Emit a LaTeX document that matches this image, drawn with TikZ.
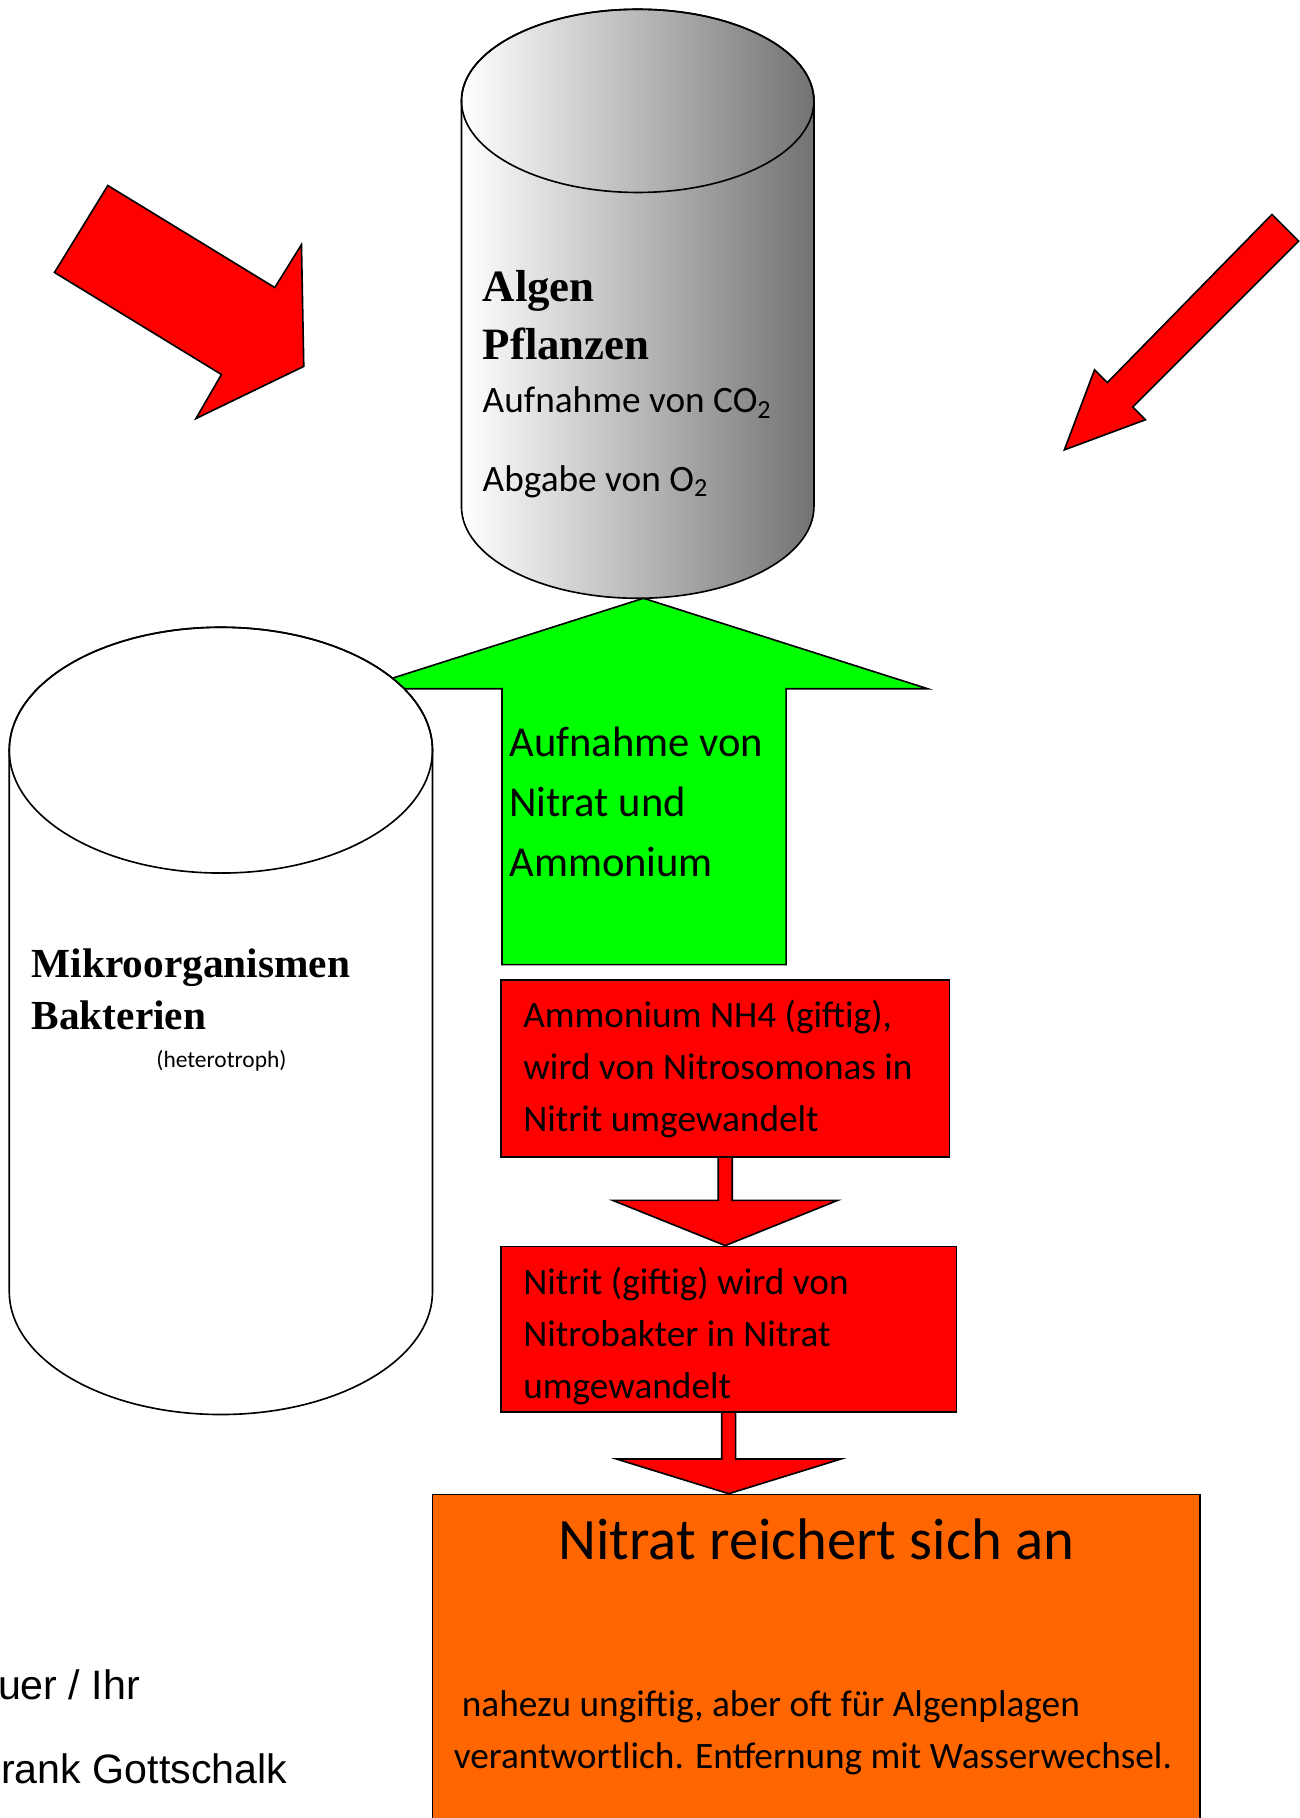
\documentclass[tikz,border=0pt]{standalone}
\usepackage{fontspec}
\setmainfont{Carlito}
\newfontfamily\titlefont{Liberation Serif}
\newfontfamily\signfont{Liberation Sans}
\usetikzlibrary{calc,fit}

\definecolor{alarmred}{HTML}{FF0000}
\definecolor{leafgreen}{HTML}{00FF00}
\definecolor{nitratorange}{HTML}{FF6600}

\tikzset{
  outline/.style={draw=black, line width=0.8pt},
  redbox/.style={outline, fill=alarmred, inner sep=0pt},
  txt/.style={inner sep=0pt, align=left, anchor=base west},
  body/.style={font=\fontsize{18.3}{25.5}\selectfont},
}

% block arrow from one box down to the next
\newcommand{\flowarrow}[3]{%
  \coordinate (#1tip) at (#1.south |- #2.north);
  \draw[outline, fill=alarmred] ($(#1.south)+(-6,0)$) -- ($(#1tip)+(-6,-#3)$)
    -- ($(#1tip)+(-97,-#3)$) -- (#1tip) -- ($(#1tip)+(97,-#3)$)
    -- ($(#1tip)+(6,-#3)$) -- ($(#1.south)+(6,0)$);}

\begin{document}
\begin{tikzpicture}[x=0.02cm, y=-0.02cm]
    \useasboundingbox (0,0) rectangle (1121,1568);

    % Red arrows
    \draw[outline, fill=alarmred] (93,160) -- (237,248) -- (260,211) -- (262,316)
        -- (169,361) -- (191,323) -- (47,235) -- cycle;
    \draw[outline, fill=alarmred] (1097,185) -- (1120,208) -- (977,351) -- (988,362)
        -- (918,388) -- (944,319) -- (955,330) -- cycle;

    % Green arrow
    \draw[outline, fill=leafgreen] (555,516) -- (800,594) -- (678,594) -- (678,832)
        -- (433,832) -- (433,594) -- (310,594) -- cycle;
    \node[txt, font=\fontsize{20.9}{29.5}\selectfont] (aufnahme) at (439,756)
        {Aufnahme von\\Nitrat und\\Ammonium};

    % Mikroorganismen
    \draw[outline, fill=white] (8,647) -- (8,1114)
        arc[start angle=180, end angle=0, x radius=182.5, y radius=106] -- (373,647)
        arc[start angle=0, end angle=-180, x radius=182.5, y radius=106] -- cycle;
    \draw[outline] (190.5,647) ellipse[x radius=182.5, y radius=106];
    \node[txt, font=\titlefont\bfseries\fontsize{20.3}{25.5}\selectfont] (mikro) at (27,888)
        {Mikroorganismen\\Bakterien};
    \node[anchor=base, inner sep=0pt, font=\fontsize{11.5}{14}\selectfont] (hetero) at (191,921)
        {(heterotroph)};

    % Algen
    \shadedraw[outline, left color=white, right color=black!55] (398,87) -- (398,437)
        arc[start angle=180, end angle=0, x radius=152, y radius=79] -- (702,87)
        arc[start angle=0, end angle=-180, x radius=152, y radius=79] -- cycle;
    \draw[outline] (550,87) ellipse[x radius=152, y radius=79];
    \node[txt, font=\titlefont\bfseries\fontsize{22}{28.3}\selectfont] (algen) at (416,310)
        {Algen\\Pflanzen};
    \node[txt, body] (co2) at (416,356) {Aufnahme von CO\textsubscript{2}};
    \node[txt, body] (o2) at (416,424) {Abgabe von O\textsubscript{2}};

    % Boxes
    \node[redbox, fit={(432,845) (819,998)}] (nh4) {};
    \node[txt, body] (nh4txt) at (451,976)
        {Ammonium NH4 (giftig),\\wird von Nitrosomonas in\\Nitrit umgewandelt};
    \node[redbox, fit={(432,1075) (825,1218)}] (no2) {};
    \node[txt, body] (no2txt) at (451,1206)
        {Nitrit (giftig) wird von\\Nitrobakter in Nitrat\\umgewandelt};
    \node[outline, fill=nitratorange, inner sep=0pt, fit={(373,1289) (1035,1600)}] (no3) {};
    \node[anchor=base, inner sep=0pt, font=\fontsize{28.8}{34}\selectfont] (no3head) at (704,1345)
        {Nitrat reichert sich an};
    \node[txt, body] (no3txt) at (391,1525)
        {\hspace*{4pt}nahezu ungiftig, aber oft für Algenplagen\\verantwortlich. Entfernung mit Wasserwechsel.};

    \flowarrow{nh4}{no2}{39}
    \flowarrow{no2}{no3}{30}

    % Signature
    \node[anchor=base east, inner sep=0pt, font=\signfont\fontsize{20.2}{24}\selectfont] (gruss) at (121,1466)
        {uer / Ihr};
    \node[anchor=base east, inner sep=0pt, font=\signfont\fontsize{20.2}{24}\selectfont] (name) at (248,1538)
        {rank Gottschalk};
\end{tikzpicture}
\end{document}
